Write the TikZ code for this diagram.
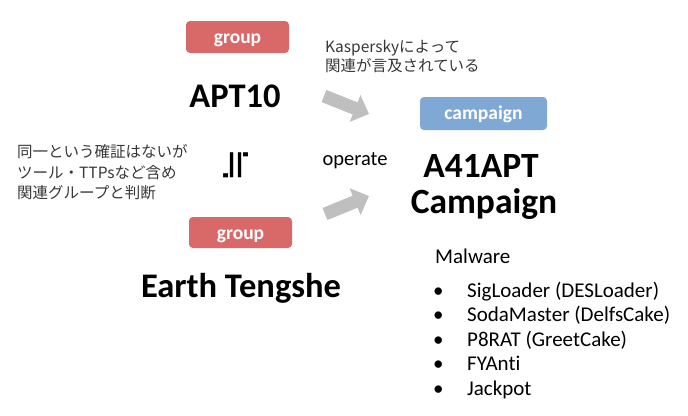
\documentclass[tikz,border=0pt]{standalone}
\usepackage{fontspec}
\setmainfont{Carlito}[Ligatures=NoCommon]
\newfontfamily\cjk{Noto Sans CJK JP}
\newfontfamily\symfont{DejaVu Sans}
\usetikzlibrary{arrows.meta}
\definecolor{grpred}{RGB}{217,105,105}
\definecolor{cmpblue}{RGB}{127,169,212}
\definecolor{arrgray}{RGB}{191,191,191}
\definecolor{txtgray}{RGB}{55,55,55}
\tikzset{
  tagbox/.style={rounded corners=4pt, inner sep=0pt, draw=none},
  tagtext/.style={inner sep=0pt, text=white, font=\fontsize{19.5}{22}\selectfont\bfseries, anchor=base},
  bigname/.style={inner sep=0pt, font=\fontsize{34.5}{40}\selectfont\bfseries, anchor=base},
  jptext/.style={inner sep=0pt, text=txtgray, font=\cjk\fontsize{15.5}{19.5}\selectfont, anchor=base west},
  plain/.style={inner sep=0pt, font=\fontsize{21}{24}\selectfont, anchor=base},
  blockarrow/.style={arrgray, line width=13pt, -{Triangle[length=15pt,width=28pt]}}
}
\begin{document}
\begin{tikzpicture}[x=1pt,y=-1pt]
\useasboundingbox (0,0) rectangle (688,415);
% group tags
\node[tagbox, fill=grpred, minimum width=103pt, minimum height=32pt] (g1box) at (237.5,37) {};
\node[tagtext] (g1text) at (237.5,43.5) {group};
\node[tagbox, fill=grpred, minimum width=103pt, minimum height=31pt] (g2box) at (240.5,232.5) {};
\node[tagtext] (g2text) at (240.5,239) {group};
% campaign tag
\node[tagbox, fill=cmpblue, minimum width=127pt, minimum height=33pt] (cbox) at (483.5,113.5) {};
\node[tagtext] (ctext) at (483.5,119.5) {campaign};
% names
\node[bigname] (apt10) at (235,107) {APT10};
\node[bigname] (earth) at (241,297) {Earth Tengshe};
\node[bigname, font=\fontsize{35.5}{40}\selectfont\bfseries] (a41) at (481,177) {A41APT};
\node[bigname, font=\fontsize{35.5}{40}\selectfont\bfseries] (a41b) at (484,213) {Campaign};
% operate
\node[plain, font=\fontsize{20.5}{24}\selectfont] (operate) at (355,165) {operate};
% approx-equal sign rotated
\node[inner sep=0pt, rotate=-90, font=\symfont\fontsize{40}{40}\selectfont] (approx) at (236,165) {≒};
% left Japanese note
\node[jptext] (jp1) at (17,157) {同一という確証はないが};
\node[jptext] (jp2) at (17,178) {ツール・TTPsなど含め};
\node[jptext] (jp3) at (17,198) {関連グループと判断};
% Kaspersky note
\node[jptext] (ka1) at (325,52) {Kasperskyによって};
\node[jptext] (ka2) at (325,71) {関連が言及されている};
% arrows
\coordinate (a1s) at (324,96);
\coordinate (a1e) at (369,114);
\coordinate (a2s) at (325,214);
\coordinate (a2e) at (369,196);
\draw[blockarrow] (a1s) -- (a1e);
\draw[blockarrow] (a2s) -- (a2e);
% malware list
\node[plain, anchor=base west] (mal) at (435,263) {Malware};
\node[plain, anchor=base west] (b1) at (433,297) {•};
\node[plain, anchor=base west] (m1) at (467,297) {SigLoader (DESLoader)};
\node[plain, anchor=base west] (b2) at (433,321.5) {•};
\node[plain, anchor=base west] (m2) at (467,321.5) {SodaMaster (DelfsCake)};
\node[plain, anchor=base west] (b3) at (433,346) {•};
\node[plain, anchor=base west] (m3) at (467,346) {P8RAT (GreetCake)};
\node[plain, anchor=base west] (b4) at (433,370.5) {•};
\node[plain, anchor=base west] (m4) at (467,370.5) {FYAnti};
\node[plain, anchor=base west] (b5) at (433,395) {•};
\node[plain, anchor=base west] (m5) at (467,395) {Jackpot};
\end{tikzpicture}
\end{document}
